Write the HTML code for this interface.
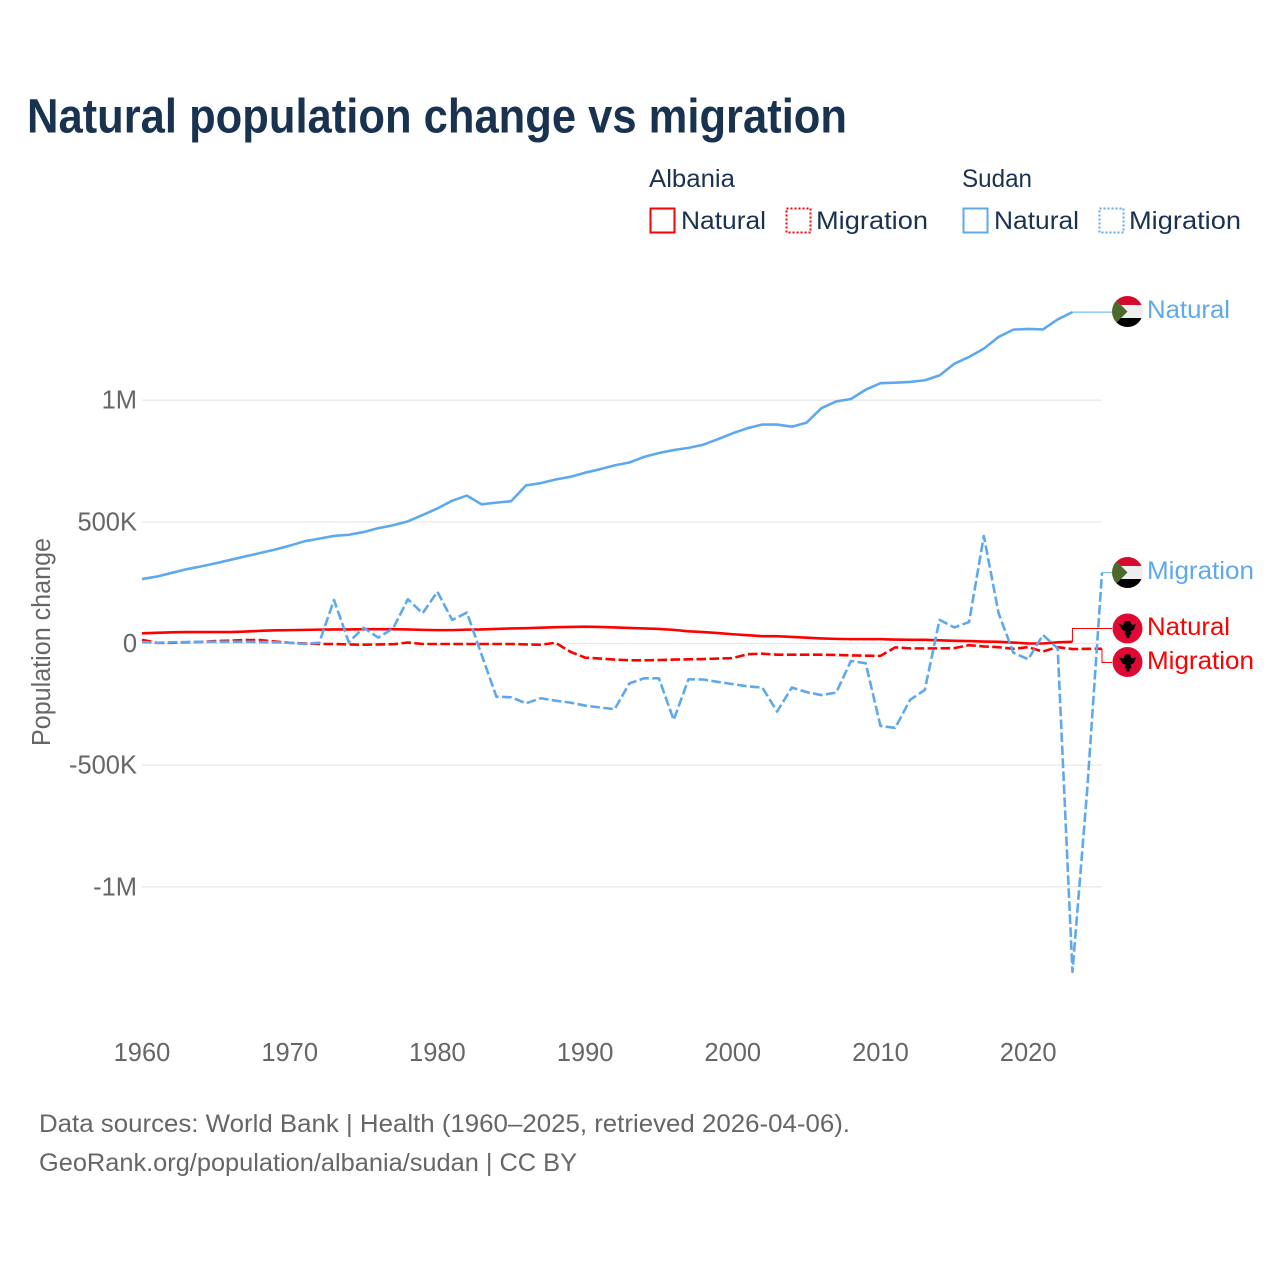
<!DOCTYPE html>
<html lang="en">
<head>
<meta charset="utf-8">
<title>Natural population change vs migration</title>
<style>
html,body{margin:0;padding:0;background:#fff;}
svg{display:block;}
text{font-family:"Liberation Sans",sans-serif;}
.title{font-size:48px;font-weight:700;fill:#18324f;}
.legend{font-size:25px;fill:#1a3152;}
.tick{font-size:25.500px;fill:#666;}
.foot{font-size:25px;fill:#666;}
.lab{font-size:25px;}
</style>
</head>
<body>
<svg id="chart" xmlns="http://www.w3.org/2000/svg" width="1280" height="1280" viewBox="0 0 1280 1280">
  <rect width="1280" height="1280" fill="#fff"/>
  <text class="title" x="27" y="132.500" textLength="820" lengthAdjust="spacingAndGlyphs">Natural population change vs migration</text>

  <g>
    <text class="legend" x="649" y="187" textLength="86" lengthAdjust="spacingAndGlyphs">Albania</text>
    <text class="legend" x="962" y="187" textLength="70" lengthAdjust="spacingAndGlyphs">Sudan</text>
    <rect x="650.500" y="208.500" width="24" height="24" fill="none" stroke="#ff0000" stroke-width="2"/>
    <text class="legend" x="681" y="229" textLength="85" lengthAdjust="spacingAndGlyphs">Natural</text>
    <rect x="786.500" y="208.500" width="24" height="24" fill="none" stroke="#ff0000" stroke-width="2" stroke-dasharray="2 2"/>
    <text class="legend" x="816" y="229" textLength="112" lengthAdjust="spacingAndGlyphs">Migration</text>
    <rect x="963.500" y="208.500" width="24" height="24" fill="none" stroke="#5ea9ee" stroke-width="2"/>
    <text class="legend" x="994" y="229" textLength="85" lengthAdjust="spacingAndGlyphs">Natural</text>
    <rect x="1099.500" y="208.500" width="24" height="24" fill="none" stroke="#5ea9ee" stroke-width="2" stroke-dasharray="2 2"/>
    <text class="legend" x="1129" y="229" textLength="112" lengthAdjust="spacingAndGlyphs">Migration</text>
  </g>

  <text class="tick" transform="translate(50,642) rotate(-90)" text-anchor="middle" textLength="208" lengthAdjust="spacingAndGlyphs">Population change</text>

  <g id="grid"></g>
  <g id="yticks"></g>
  <g id="xticks"></g>
  <g id="series"></g>

  <defs>
    <clipPath id="clip-flag-a"><circle cx="1127.500" cy="311.500" r="15.500"/></clipPath>
    <clipPath id="clip-flag-b"><circle cx="1127.500" cy="572.500" r="15.500"/></clipPath>
  </defs>
  <g clip-path="url(#clip-flag-a)">
    <rect x="1112" y="296" width="31" height="9.500" fill="#d60a2e"/>
    <rect x="1112" y="305" width="31" height="13" fill="#eeeeee"/>
    <rect x="1112" y="318" width="31" height="10" fill="#000"/>
    <polygon points="1112,296 1127.500,311.500 1112,327" fill="#4b6a2c"/>
  </g>
  <g clip-path="url(#clip-flag-b)">
    <rect x="1112" y="557" width="31" height="9.500" fill="#d60a2e"/>
    <rect x="1112" y="566" width="31" height="13" fill="#eeeeee"/>
    <rect x="1112" y="579" width="31" height="10" fill="#000"/>
    <polygon points="1112,557 1127.500,572.500 1112,588" fill="#4b6a2c"/>
  </g>
  <g>
    <circle cx="1127.500" cy="628.500" r="15" fill="#de0a33"/>
    <path d="M1119 624l4.500 1 1.500-4h5l1.500 4 4.500-1-2.500 6-3 1 1 3-2 1.500v2.500h-3v-2.500l-2-1.500 1-3-3-1z" fill="#000"/>
  </g>
  <g>
    <circle cx="1127.500" cy="662" r="15" fill="#de0a33"/>
    <path d="M1119 657.500l4.500 1 1.500-4h5l1.500 4 4.500-1-2.500 6-3 1 1 3-2 1.500v2.500h-3v-2.500l-2-1.500 1-3-3-1z" fill="#000"/>
  </g>

  <text class="lab" x="1147" y="318" fill="#5ea9ee" textLength="83" lengthAdjust="spacingAndGlyphs">Natural</text>
  <text class="lab" x="1147" y="579" fill="#5ea9ee" textLength="107" lengthAdjust="spacingAndGlyphs">Migration</text>
  <text class="lab" x="1147" y="635" fill="#ff0000" textLength="83" lengthAdjust="spacingAndGlyphs">Natural</text>
  <text class="lab" x="1147" y="669" fill="#ff0000" textLength="107" lengthAdjust="spacingAndGlyphs">Migration</text>

  <text class="foot" x="39" y="1132" textLength="811" lengthAdjust="spacingAndGlyphs">Data sources: World Bank | Health (1960–2025, retrieved 2026-04-06).</text>
  <text class="foot" x="39" y="1171" textLength="538" lengthAdjust="spacingAndGlyphs">GeoRank.org/population/albania/sudan | CC BY</text>
</svg>

<script>
const years = [
  1960,1961,1962,1963,1964,1965,1966,1967,1968,1969,
  1970,1971,1972,1973,1974,1975,1976,1977,1978,1979,
  1980,1981,1982,1983,1984,1985,1986,1987,1988,1989,
  1990,1991,1992,1993,1994,1995,1996,1997,1998,1999,
  2000,2001,2002,2003,2004,2005,2006,2007,2008,2009,
  2010,2011,2012,2013,2014,2015,2016,2017,2018,2019,
  2020,2021,2022,2023,2024,2025
];
/* values in thousands of people */
const albaniaNatural = [
  42,44,46,47,47,47,47,49,52,54,
  55,56,57,58,58,59,59,59,58,56,
  55,55,57,58,60,62,63,65,67,68,
  69,68,66,64,62,60,56,50,47,43,
  38,34,30,30,27,24,21,19,18,18,
  18,16,15,15,13,11,10,8,7,4,
  0,0,5,7
];
const albaniaMigration = [
  15,3,3,5,7,10,12,14,14,8,
  3,0,-2,-2,-4,-5,-4,-3,4,-2,
  -2,-2,-2,-2,-2,-2,-4,-5,3,-34,
  -58,-62,-66,-69,-69,-68,-66,-65,-64,-62,
  -60,-44,-42,-46,-46,-46,-46,-47,-49,-50,
  -51,-16,-20,-20,-20,-19,-7,-12,-15,-22,
  -15,-33,-15,-23,-22,-22
];
const sudanNatural = [
  265,275,290,305,317,330,344,358,372,386,
  402,420,431,442,447,458,474,486,502,528,
  555,587,608,572,579,585,650,659,674,685,
  702,716,732,744,767,783,795,804,817,840,
  864,885,900,900,891,908,967,995,1005,1043,
  1070,1072,1075,1082,1102,1150,1178,1212,1260,1290,
  1293,1291,1332,1362
];
const sudanMigration = [
  6,3,5,6,7,7,7,7,6,5,
  3,-2,3,179,5,65,24,62,182,124,
  213,97,127,-47,-219,-221,-246,-225,-235,-243,
  -255,-263,-270,-164,-143,-143,-314,-147,-148,-158,
  -167,-176,-181,-280,-181,-200,-212,-202,-72,-81,
  -339,-347,-232,-191,97,66,88,442,124,-38,
  -65,35,-20,-1350,-600,291
];
const yTickValues = [1000,500,0,-500,-1000];
const yTickLabels = ["1M","500K","0","-500K","-1M"];
const xTickValues = [1960,1970,1980,1990,2000,2010,2020];
const xTickLabels = ["1960","1970","1980","1990","2000","2010","2020"];

const NS = "http://www.w3.org/2000/svg";
const RED = "#ff0000";
const BLUE = "#5ea9ee";
const PLOT_LEFT = 142;
const PLOT_RIGHT = 1102;
const ZERO_Y = 643.5;
const PX_PER_THOUSAND = 0.2433;
const FLAG_LEFT = 1112;

function xScale(year) {
  return PLOT_LEFT + (year - years[0]) * (PLOT_RIGHT - PLOT_LEFT) / (years[years.length - 1] - years[0]);
}
function yScale(value) {
  return ZERO_Y - value * PX_PER_THOUSAND;
}
function make(tag, parent, attrs) {
  const el = document.createElementNS(NS, tag);
  Object.keys(attrs).forEach(function (k) { el.setAttribute(k, attrs[k]); });
  parent.appendChild(el);
  return el;
}

const gridGroup = document.getElementById("grid");
const yGroup = document.getElementById("yticks");
const xGroup = document.getElementById("xticks");
const seriesGroup = document.getElementById("series");

yTickValues.forEach(function (v, i) {
  const line = make("line", gridGroup, {x1: PLOT_LEFT, x2: PLOT_RIGHT, y1: yScale(v), y2: yScale(v), stroke: "#e9e9e9", "stroke-width": 1.3});
  
  
  const t = make("text", yGroup, {x: 137, y: yScale(v) + 8.5, "text-anchor": "end", "class": "tick"});
  
  
  t.textContent = yTickLabels[i];
});

xTickValues.forEach(function (v, i) {
  const t = make("text", xGroup, {x: xScale(v), y: 1061, "text-anchor": "middle", "class": "tick"});
  
  
  t.textContent = xTickLabels[i];
});

function linePath(values) {
  return values.map(function (v, i) {
    return (i ? "L" : "M") + xScale(years[i]).toFixed(2) + " " + yScale(v).toFixed(2);
  }).join("");
}
function lastPoint(values) {
  const i = values.length - 1;
  return [xScale(years[i]), yScale(values[i])];
}

/* connector leader lines from each series' last point to its flag */
function connector(values, flagY, color) {
  const p = lastPoint(values);
  const d = Math.abs(p[1] - flagY) < 1
    ? "M" + p[0] + " " + p[1] + "L" + FLAG_LEFT + " " + flagY
    : "M" + p[0] + " " + p[1] + "V" + flagY + "H" + FLAG_LEFT;
  return make("path", seriesGroup, {d: d, fill: "none", stroke: color, "stroke-width": 1});
}

const c1 = connector(albaniaNatural, 628.5, RED);


const c2 = connector(albaniaMigration, 662.5, RED);


const c3 = connector(sudanNatural, lastPoint(sudanNatural)[1], BLUE);


const c4 = connector(sudanMigration, lastPoint(sudanMigration)[1], BLUE);



const solidAttrs = {fill: "none", "stroke-width": 2.6, "stroke-linejoin": "round"};
const dashAttrs = {fill: "none", "stroke-width": 2.6, "stroke-linejoin": "round", "stroke-dasharray": "9.6 3.4"};

const s1 = make("path", seriesGroup, Object.assign({d: linePath(albaniaNatural), stroke: RED}, solidAttrs));


const s2 = make("path", seriesGroup, Object.assign({d: linePath(albaniaMigration), stroke: RED}, dashAttrs));


const s3 = make("path", seriesGroup, Object.assign({d: linePath(sudanNatural), stroke: BLUE}, solidAttrs));


const s4 = make("path", seriesGroup, Object.assign({d: linePath(sudanMigration), stroke: BLUE}, dashAttrs));


</script>
</body>
</html>
